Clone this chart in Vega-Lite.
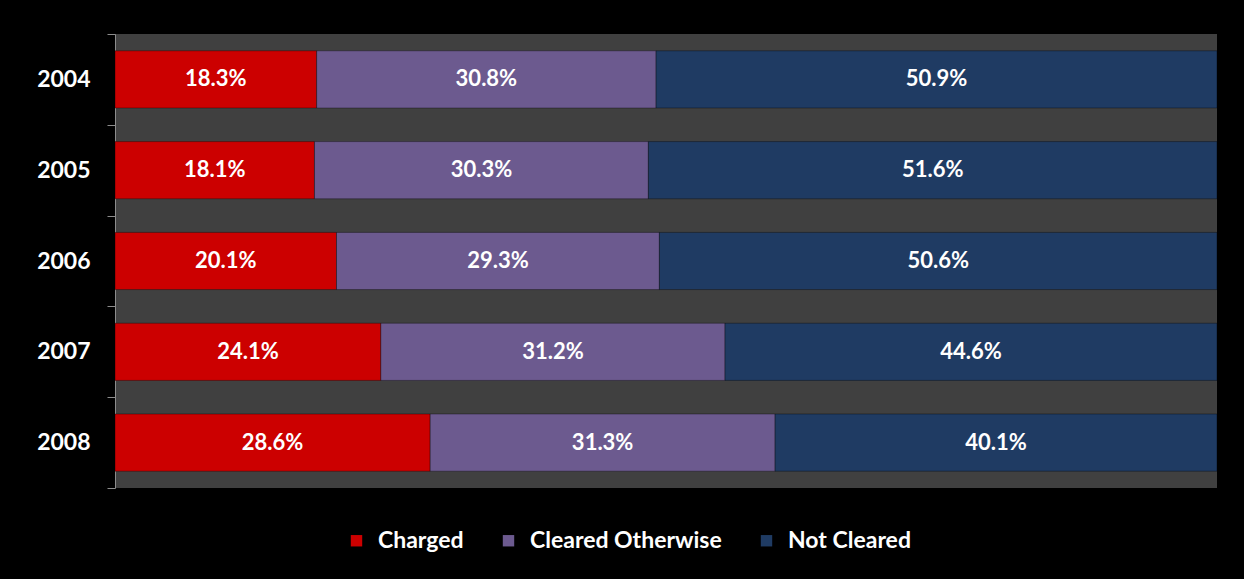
{
  "$schema": "https://vega.github.io/schema/vega-lite/v6.json",
  "width": 1102,
  "height": 454,
  "autosize": {"type": "none"},
  "padding": {"left": 115, "top": 34, "right": 27, "bottom": 91},
  "background": "#000000",
  "config": {
    "view": {"fill": "#404040", "stroke": null},
    "font": "Lato"
  },
  "data": {
    "values": [
      {"year": "2004", "series": "Charged", "value": 18.3},
      {"year": "2004", "series": "Cleared Otherwise", "value": 30.8},
      {"year": "2004", "series": "Not Cleared", "value": 50.9},
      {"year": "2005", "series": "Charged", "value": 18.1},
      {"year": "2005", "series": "Cleared Otherwise", "value": 30.3},
      {"year": "2005", "series": "Not Cleared", "value": 51.6},
      {"year": "2006", "series": "Charged", "value": 20.1},
      {"year": "2006", "series": "Cleared Otherwise", "value": 29.3},
      {"year": "2006", "series": "Not Cleared", "value": 50.6},
      {"year": "2007", "series": "Charged", "value": 24.1},
      {"year": "2007", "series": "Cleared Otherwise", "value": 31.2},
      {"year": "2007", "series": "Not Cleared", "value": 44.6},
      {"year": "2008", "series": "Charged", "value": 28.6},
      {"year": "2008", "series": "Cleared Otherwise", "value": 31.3},
      {"year": "2008", "series": "Not Cleared", "value": 40.1}
    ]
  },
  "encoding": {
    "y": {
      "field": "year",
      "type": "nominal",
      "scale": {"paddingInner": 0, "paddingOuter": 0},
      "axis": {
        "title": null,
        "tickBand": "extent",
        "tickSize": 8,
        "tickColor": "#8c8c8c",
        "domainColor": "#8c8c8c",
        "labelColor": "#ffffff",
        "labelFont": "Lato",
        "labelFontWeight": "bold",
        "labelFontSize": 23,
        "labelPadding": 17
      }
    }
  },
  "layer": [
    {
      "mark": {"type": "bar", "height": {"band": 0.63}, "stroke": "#000000", "strokeOpacity": 0.35, "strokeWidth": 1},
      "encoding": {
        "x": {"field": "value", "type": "quantitative", "stack": "normalize", "scale": {"domain": [0, 1]}, "axis": null},
        "color": {
          "field": "series",
          "type": "nominal",
          "scale": {
            "domain": ["Charged", "Cleared Otherwise", "Not Cleared"],
            "range": ["#CC0000", "#6C5A8F", "#1F3B63"]
          },
          "legend": {
            "title": null,
            "orient": "none",
            "direction": "horizontal",
            "legendX": 230,
            "legendY": 495,
            "symbolType": "square",
            "symbolSize": 130,
            "symbolStrokeWidth": 0,
            "labelColor": "#ffffff",
            "labelFont": "Lato",
            "labelFontWeight": "bold",
            "labelFontSize": 23,
            "labelOffset": 10,
            "labelLimit": 400,
            "columnPadding": 33
          }
        }
      }
    },
    {
      "mark": {"type": "text", "color": "#ffffff", "fontSize": 22, "fontWeight": "bold", "font": "Lato", "baseline": "middle", "align": "center", "text": {"expr": "format(datum.value, '.1f') + '%'"}},
      "encoding": {
        "x": {"field": "value", "type": "quantitative", "stack": "normalize", "bandPosition": 0.5},
        "detail": {"field": "series"}
      }
    }
  ]
}
